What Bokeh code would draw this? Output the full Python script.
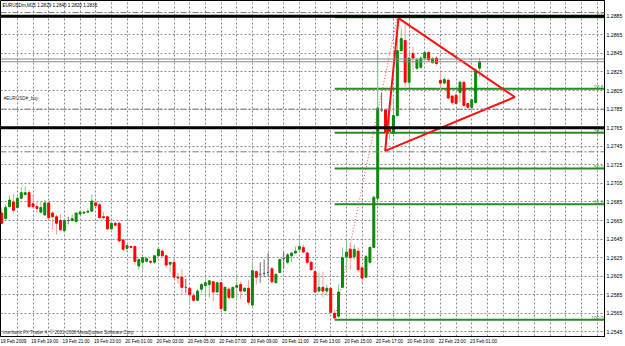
from bokeh.plotting import figure
from bokeh.models import Range1d, FixedTicker, Label, Span, ColumnDataSource, PrintfTickFormatter
from bokeh.core.properties import value
from bokeh.embed import file_html
from bokeh.resources import INLINE

# ---------------- data (EURUSDm, M15) ----------------
opens = [1.2673,1.2667,1.2680,1.2685,1.2679,1.2689,1.2693,1.2695,1.2683,1.2680,
         1.2674,1.2671,1.2684,1.2673,1.2669,1.2665,1.2654,1.2665,1.2665,1.2664,
         1.2672,1.2673,1.2674,1.2675,1.2684,1.2682,1.2669,1.2669,1.2656,1.2662,
         1.2662,1.2644,1.2635,1.2637,1.2637,1.2616,1.2620,1.2621,1.2621,1.2620,
         1.2627,1.2632,1.2627,1.2618,1.2620,1.2604,1.2604,1.2593,1.2592,1.2584,
         1.2579,1.2591,1.2595,1.2596,1.2599,1.2588,1.2598,1.2568,1.2591,1.2582,
         1.2593,1.2596,1.2589,1.2592,1.2574,1.2610,1.2607,1.2608,1.2609,1.2613,
         1.2598,1.2609,1.2624,1.2620,1.2627,1.2630,1.2634,1.2636,1.2630,1.2620,
         1.2610,1.2589,1.2593,1.2589,1.2592,1.2565,1.2562,1.2593,1.2626,1.2634,
         1.2626,1.2632,1.2614,1.2604,1.2620,1.2636,1.2689,1.2784,1.2784,1.2765,
         1.2759,1.2778,1.2848,1.2859,1.2814,1.2845,1.2829,1.2830,1.2840,1.2846,
         1.2835,1.2840,1.2816,1.2813,1.2816,1.2799,1.2800,1.2803,1.2814,1.2791,
         1.2787,1.2792,1.2829]
highs = [1.2679,1.2682,1.2692,1.2694,1.2690,1.2701,1.2702,1.2698,1.2693,1.2686,
         1.2685,1.2687,1.2685,1.2675,1.2671,1.2672,1.2667,1.2669,1.2671,1.2674,
         1.2676,1.2675,1.2678,1.2693,1.2687,1.2684,1.2674,1.2670,1.2664,1.2664,
         1.2664,1.2645,1.2639,1.2638,1.2638,1.2624,1.2626,1.2625,1.2622,1.2628,
         1.2636,1.2634,1.2628,1.2620,1.2624,1.2609,1.2613,1.2602,1.2592,1.2587,
         1.2591,1.2598,1.2604,1.2601,1.2599,1.2599,1.2599,1.2594,1.2593,1.2594,
         1.2607,1.2599,1.2593,1.2601,1.2621,1.2611,1.2620,1.2623,1.2630,1.2615,
         1.2608,1.2624,1.2631,1.2630,1.2631,1.2637,1.2649,1.2639,1.2631,1.2621,
         1.2611,1.2609,1.2610,1.2596,1.2593,1.2569,1.2596,1.2636,1.2644,1.2641,
         1.2639,1.2636,1.2617,1.2628,1.2637,1.2692,1.2843,1.2803,1.2785,1.2784,
         1.2797,1.2884,1.2872,1.2878,1.2841,1.2852,1.2840,1.2842,1.2848,1.2848,
         1.2841,1.2842,1.2825,1.2819,1.2818,1.2800,1.2803,1.2816,1.2815,1.2792,
         1.2796,1.2829,1.2840]
lows = [1.2661,1.2666,1.2679,1.2673,1.2678,1.2688,1.2692,1.2679,1.2678,1.2673,
        1.2673,1.2670,1.2666,1.2655,1.2650,1.2654,1.2653,1.2661,1.2664,1.2662,
        1.2671,1.2672,1.2673,1.2674,1.2680,1.2667,1.2666,1.2655,1.2655,1.2659,
        1.2642,1.2632,1.2631,1.2635,1.2617,1.2612,1.2612,1.2620,1.2618,1.2618,
        1.2626,1.2626,1.2614,1.2609,1.2602,1.2597,1.2585,1.2587,1.2574,1.2577,
        1.2578,1.2587,1.2582,1.2582,1.2578,1.2587,1.2569,1.2567,1.2580,1.2581,
        1.2580,1.2580,1.2588,1.2574,1.2571,1.2596,1.2598,1.2604,1.2604,1.2597,
        1.2597,1.2608,1.2613,1.2618,1.2620,1.2629,1.2630,1.2630,1.2618,1.2611,
        1.2587,1.2588,1.2582,1.2584,1.2565,1.2558,1.2560,1.2592,1.2612,1.2612,
        1.2623,1.2610,1.2598,1.2603,1.2618,1.2635,1.2688,1.2782,1.2748,1.2752,
        1.2757,1.2777,1.2847,1.2809,1.2809,1.2827,1.2827,1.2829,1.2838,1.2836,
        1.2834,1.2832,1.2805,1.2812,1.2795,1.2790,1.2790,1.2792,1.2788,1.2784,
        1.2786,1.2791,1.2820]
closes = [1.2662,1.2679,1.2687,1.2676,1.2689,1.2695,1.2695,1.2680,1.2680,1.2678,
          1.2679,1.2684,1.2668,1.2669,1.2662,1.2655,1.2665,1.2665,1.2667,1.2673,
          1.2674,1.2674,1.2675,1.2686,1.2681,1.2668,1.2668,1.2656,1.2662,1.2660,
          1.2643,1.2634,1.2638,1.2636,1.2621,1.2623,1.2625,1.2624,1.2620,1.2627,
          1.2634,1.2627,1.2617,1.2620,1.2604,1.2603,1.2593,1.2593,1.2585,1.2579,
          1.2589,1.2596,1.2598,1.2600,1.2588,1.2598,1.2570,1.2593,1.2582,1.2593,
          1.2595,1.2589,1.2592,1.2577,1.2611,1.2604,1.2607,1.2608,1.2609,1.2599,
          1.2607,1.2623,1.2624,1.2628,1.2630,1.2632,1.2637,1.2631,1.2620,1.2612,
          1.2588,1.2593,1.2589,1.2592,1.2566,1.2560,1.2588,1.2625,1.2631,1.2625,
          1.2634,1.2612,1.2603,1.2626,1.2636,1.2690,1.2786,1.2784,1.2760,1.2761,
          1.2778,1.2848,1.2861,1.2814,1.2840,1.2840,1.2838,1.2840,1.2846,1.2838,
          1.2839,1.2834,1.2813,1.2817,1.2797,1.2792,1.2791,1.2814,1.2789,1.2787,
          1.2795,1.2827,1.2836]

time_labels = ["19 Feb 2009", "19 Feb 19:00", "19 Feb 21:00", "19 Feb 23:00",
               "20 Feb 01:00", "20 Feb 03:00", "20 Feb 05:00", "20 Feb 07:00",
               "20 Feb 09:00", "20 Feb 11:00", "20 Feb 13:00", "20 Feb 15:00",
               "20 Feb 17:00", "20 Feb 19:00", "22 Feb 23:00", "23 Feb 01:00"]
time_label_bars = [0, 8, 16, 24, 32, 40, 48, 56, 64, 72, 80, 88, 96, 104, 112, 120]

price_ticks = [1.2545, 1.2565, 1.2585, 1.2605, 1.2625, 1.2645, 1.2665, 1.2685, 1.2705,
               1.2725, 1.2745, 1.2765, 1.2785, 1.2805, 1.2825, 1.2845, 1.2865, 1.2885]

title_text = "EURUSDm,M15  1.2829 1.2840 1.2820 1.2836"
copyright_text = "Interbank FX Trader 4, \u00a9 2001-2008 MetaQuotes Software Corp."
order_text = "#EURUSD#_buy"

black_levels = [1.2885, 1.2765]          # thick black horizontal lines
price_lines = [1.2836, 1.2839]           # bid / ask lines
order_levels = [1.2889, 1.2785, 1.2739]  # dash-dot order lines
box_prices = [1.2885, 1.2836, 1.2765]    # black price boxes on the scale

fib_low_bar, fib_high_bar = 85, 101
fib_low, fib_high = 1.2558, 1.2884
fib_ratios = [0.0, 23.6, 38.2, 50.0, 61.8, 100.0]

tri_x = [101.3, 131.0, 97.9, 101.3]
tri_y = [1.2883, 1.2798, 1.2740, 1.2883]

# ---------------- figure ----------------
FONT = "Liberation Sans"
X0, X1 = -0.305, 153.89
Y0, Y1 = 1.254006, 1.2902

p = figure(width=625, height=346, output_backend="svg", toolbar_location=None,
           x_range=Range1d(X0, X1), y_range=Range1d(Y0, Y1),
           y_axis_location="right",
           min_border_left=0, min_border_top=0, min_border_right=19, min_border_bottom=9)
p.background_fill_color = "white"
p.border_fill_color = "white"
p.outline_line_color = "black"
p.outline_line_width = 1

# right price axis
yax = p.yaxis[0]
yax.ticker = FixedTicker(ticks=price_ticks)
yax.formatter = PrintfTickFormatter(format="%.4f")
yax.major_label_text_font = FONT
yax.major_label_text_font_size = "5.2px"
yax.major_label_text_color = "black"
yax.major_tick_in = 0
yax.major_tick_out = 0
yax.minor_tick_in = 0
yax.minor_tick_out = 0
yax.major_label_standoff = 2
yax.axis_line_color = "black"

# bottom time axis (labels start at their bar)
label_centers = [b + 3 for b in time_label_bars]
xax = p.xaxis[0]
xax.ticker = FixedTicker(ticks=label_centers)
xax.major_label_overrides = {c: t for c, t in zip(label_centers, time_labels)}
xax.major_label_text_font = FONT
xax.major_label_text_font_size = "4.6px"
xax.major_label_text_color = "black"
xax.major_tick_in = 0
xax.major_tick_out = 0
xax.minor_tick_in = 0
xax.minor_tick_out = 0
xax.major_label_standoff = 2
xax.axis_line_color = "black"

# grid
p.xgrid.ticker = FixedTicker(ticks=list(range(4, 156, 4)))
for g in (p.xgrid[0], p.ygrid[0]):
    g.grid_line_color = "#8c8c8c"
    g.grid_line_dash = "2 2"
    g.grid_line_width = 1

# horizontal lines
for lv in order_levels:
    p.add_layout(Span(location=lv, dimension="width", line_color="#7a7a7a",
                      line_width=1, line_dash="6 2 2 2"))
for lv in price_lines:
    p.add_layout(Span(location=lv, dimension="width", line_color="#8a8a8a", line_width=1))
for lv in black_levels:
    p.add_layout(Span(location=lv, dimension="width", line_color="black", line_width=3))

# fibonacci
fib_levels = [fib_high - r / 100.0 * (fib_high - fib_low) for r in fib_ratios]
p.segment(x0=[fib_low_bar] * len(fib_levels), x1=[X1] * len(fib_levels),
          y0=fib_levels, y1=fib_levels, line_color="#2a8a2a", line_width=2)
p.text(x=[X1 - 0.3] * len(fib_levels), y=fib_levels, text=["%.1f" % r for r in fib_ratios],
       text_align="right", text_baseline="bottom", text_font=value(FONT),
       text_font_size="4.8px", text_color="#2a8a2a")
p.line(x=[fib_low_bar, fib_high_bar], y=[fib_low, fib_high], line_color="#ff5050",
       line_width=1, line_dash="1 2")

# candles
n = len(opens)
bars = list(range(n))
body_col, wick_col, tops, bots = [], [], [], []
for o, c in zip(opens, closes):
    if c > o:
        body_col.append("#0b870b"); wick_col.append("#86c686")
    elif c < o:
        body_col.append("#ff0000"); wick_col.append("#f4a0a0")
    else:
        body_col.append("#5a5a5a"); wick_col.append("#6a6a6a")
    tops.append(max(o, c)); bots.append(min(o, c))
src = ColumnDataSource(dict(x=bars, h=highs, l=lows, top=tops, bot=bots, bc=body_col, wc=wick_col))
p.segment(x0="x", x1="x", y0="l", y1="h", line_color="wc", line_width=1, source=src)
p.vbar(x="x", width=0.5, top="top", bottom="bot", fill_color="bc", line_color="bc",
       line_width=1, source=src)

# triangle
p.line(x=tri_x, y=tri_y, line_color="#ff1010", line_width=2)

# texts
p.add_layout(Label(x=0.2, y=1.28998, text=title_text, text_font=FONT, text_font_size="4.6px",
                   text_color="black", text_baseline="top", text_align="left"))
p.add_layout(Label(x=0.5, y=1.27935, text=order_text, text_font=FONT, text_font_size="4.6px",
                   text_color="#333333", text_baseline="bottom", text_align="left"))
p.add_layout(Label(x=0.2, y=1.25444, text=copyright_text, text_font=FONT, text_font_size="4.6px",
                   text_color="#333333", text_baseline="middle", text_align="left"))

# black price boxes on the scale
for bp in box_prices:
    p.add_layout(Label(x=X1 + 0.45, y=bp, text="%.4f" % bp, text_font=FONT,
                       text_font_size="5.2px", text_color="white", text_baseline="middle",
                       text_align="left", background_fill_color="black"))

open("out.html", "w").write(file_html(p, INLINE))
